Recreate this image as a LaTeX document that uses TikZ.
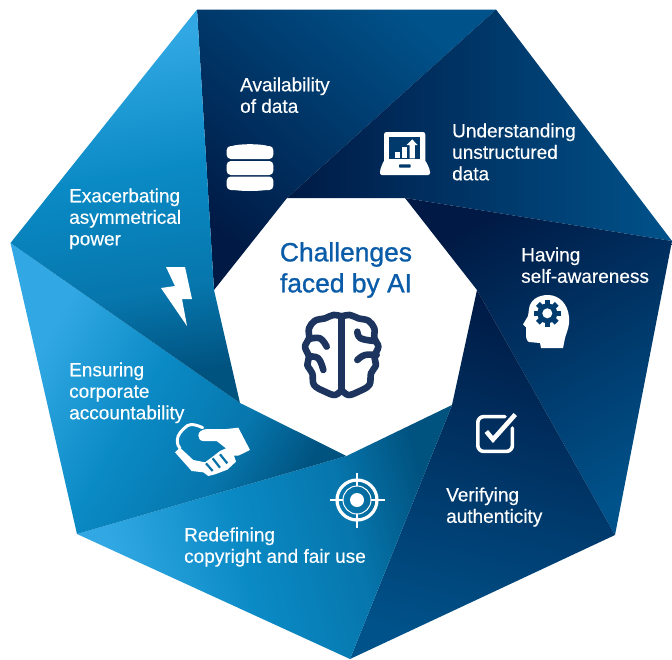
\documentclass[tikz,border=0pt]{standalone}
\usepackage{fontspec}
\setmainfont{Liberation Sans}
\newfontfamily\medfont[FakeBold=0.35]{Liberation Sans}
\newfontfamily\titlefont[FakeBold=1]{Liberation Sans}
\definecolor{dk}{HTML}{001A45}
\definecolor{nv}{HTML}{00528A}
\definecolor{lt}{HTML}{31A8E3}
\definecolor{md}{HTML}{0A8AC5}
\definecolor{tl}{HTML}{00527F}
\definecolor{brainc}{HTML}{1C345E}
\definecolor{titlec}{HTML}{0A5CA8}
\pgfdeclareverticalshading{bluefan}{100bp}{color(0bp)=(tl); color(26bp)=(tl); color(38bp)=(md!65!tl); color(54bp)=(md); color(72bp)=(lt); color(100bp)=(lt)}
\tikzset{
  bladenavy/.style={left color=dk,right color=nv,draw=none},
  bladeblue/.style={shading=bluefan,draw=none},
  label/.style={text=white,align=left,anchor=north west,inner sep=0pt,font=\medfont\fontsize{19}{21.5}\selectfont},
  title/.style={text=titlec,align=center,anchor=center,inner sep=0pt,font=\titlefont\fontsize{26.4}{31}\selectfont},
  ico/.style={fill=white,draw=none},
  brainline/.style={draw=brainc,line width=6.6pt,line cap=round,line join=round},
}
\newcommand{\ls}[1]{\strut #1}
\begin{document}
\begin{tikzpicture}[x=1pt,y=-1pt]
\useasboundingbox (0,0) rectangle (672,659);
\fill[white] (0,0) rectangle (672,659);
% outer
\coordinate (oA) at (197,9.5);
\coordinate (oB) at (496,9.5);
\coordinate (oC) at (672,241);
\coordinate (oD) at (615,535);
\coordinate (oE) at (350,659);
\coordinate (oF) at (77,534);
\coordinate (oG) at (10.5,243);
% inner
\coordinate (i1) at (287,198);
\coordinate (i2) at (405,198);
\coordinate (i3) at (477,290);
\coordinate (i4) at (452,405);
\coordinate (i5) at (346.5,456);
\coordinate (i6) at (240,403);
\coordinate (i7) at (214,290);
% blades
\shade[bladenavy,shading angle=140] (oA) -- (oB) -- (i1) -- (i7) -- cycle;
\shade[bladenavy,shading angle=90] (oB) -- (oC) -- (i2) -- (i1) -- cycle;
\shade[bladenavy,shading angle=30] (oC) -- (oD) -- (i3) -- (i2) -- cycle;
\shade[bladenavy,shading angle=-15] (oD) -- (oE) -- (i4) -- (i3) -- cycle;
\shade[bladeblue,shading angle=105] (oE) -- (oF) -- (i5) -- (i4) -- cycle;
\shade[bladeblue,shading angle=60] (oF) -- (oG) -- (i6) -- (i5) -- cycle;
\shade[bladeblue,shading angle=10] (oG) -- (oA) -- (i7) -- (i6) -- cycle;
% labels
\node[label] (avail) at (240,76) {\ls{Availability}\\\ls{of data}};
\node[label] (unstr) at (452,122) {\ls{Understanding}\\\ls{unstructured}\\\ls{data}};
\node[label] (selfa) at (521,246) {\ls{Having}\\\ls{self-awareness}};
\node[label] (verif) at (446,486) {\ls{Verifying}\\\ls{authenticity}};
\node[label] (copyr) at (184,526) {\ls{Redefining}\\\ls{copyright and fair use}};
\node[label] (corpo) at (69,361) {\ls{Ensuring}\\\ls{corporate}\\\ls{accountability}};
\node[label] (asymm) at (69,187) {\ls{Exacerbating}\\\ls{asymmetrical}\\\ls{power}};
\node[title] (chall) at (346,270) {Challenges\\faced by AI};
% database
\fill[ico,rounded corners=4pt] (226.7,146) rectangle (273.3,159);
\fill[ico] (250,147.5) ellipse [x radius=20,y radius=3.3];
\fill[ico,rounded corners=4pt] (226.7,161) rectangle (273.3,175);
\fill[ico,rounded corners=4pt] (226.7,176.5) rectangle (273.3,190);
\fill[ico] (250,188) ellipse [x radius=20,y radius=3];
% laptop
\fill[ico,rounded corners=2.5pt] (384,132) rectangle (425.3,165);
\fill[ico,rounded corners=2pt] (384,160) -- (425.3,160) -- (430,170) -- (430,175) -- (380,175) -- (380,170) -- cycle;
\fill[dk!45!nv] (389.3,136.7) rectangle (420.3,159.3);
\fill[dk!45!nv,rounded corners=0.8pt] (399,164.3) rectangle (410.7,167.7);
\fill[ico] (395,151.7) rectangle (400,158.3);
\fill[ico] (401.7,146.7) rectangle (407.3,158.3);
\fill[ico] (409.6,158.3) -- (409.6,145) -- (406.7,145) -- (412.2,139.3) -- (417.5,145) -- (414.9,145) -- (414.9,158.3) -- cycle;
% head + gear
\fill[ico] (529,342) -- (540,343) -- (541,348) -- (563,348) -- (565,338)
  .. controls (567,331) and (570,326) .. (569,317)
  .. controls (568,304) and (559,295) .. (548,295)
  .. controls (538,295) and (530,300) .. (529,309)
  .. controls (528.5,312) and (528.5,314) .. (528,316)
  -- (523,324.5) -- (526,327.5) -- (526,333)
  .. controls (526,337) and (526,340) .. (529,342) -- cycle;
\foreach \a in {0,45,...,315}{
  \fill[nv!60!dk,rotate around={\a:(547.3,313.3)}] (544.6,300) rectangle (550,305);
}
\fill[nv!60!dk] (547.3,313.3) circle [radius=10];
\fill[ico] (547.3,313.3) circle [radius=5];
% check box
\draw[white,line width=3.6pt,line cap=round,line join=round,rounded corners=6pt] (505,416.6) -- (477.8,416.6) -- (477.8,451.4) -- (512.4,451.4) -- (512.4,428);
\draw[white,line width=4.6pt,line join=miter] (486.3,431.5) -- (493,439.5) -- (515.3,414.5);
% lightning
\fill[ico] (166,267) -- (185,267) -- (192,299) -- (182,299) -- (187,326) -- (161,288) -- (175,286) -- cycle;
% target
\draw[white,line width=3.2pt] (357,500) circle [radius=20];
\draw[white,line width=1pt] (357,500) circle [radius=14];
\fill[ico] (357,500) circle [radius=7];
\draw[white,line width=2.8pt] (330,500) -- (343,500) (371,500) -- (385,500) (357,473) -- (357,486) (357,514) -- (357,527.5);
% handshake
\begin{scope}[shift={(170,415)},x=0.3333pt,y=-0.3333pt]
\draw[white,line width=3pt,line cap=round,line join=round] (98,38) .. controls (80,30) and (65,25) .. (52,32) .. controls (35,45) and (22,60) .. (22,75) .. controls (22,88) and (25,95) .. (30,100);
\fill[ico] (85,62) .. controls (85,50) and (95,44) .. (110,42) -- (170,42) -- (205,38) -- (240,105) -- (205,122) -- (192,122) -- (198,140) -- (172,164) -- (135,178) -- (115,183) -- (100,172) -- (65,168) -- (15,112) -- (30,98) -- (70,135) -- (105,142) -- (128,125) -- (150,108) -- (168,100) -- (140,78) -- (100,78) .. controls (90,78) and (85,70) .. (85,62) -- cycle;
\draw[md!55!tl,line width=2.2pt] (108,145) -- (128,168) (128,130) -- (150,158) (150,118) -- (172,145);
\end{scope}
% brain
\begin{scope}[shift={(295,305)},x=0.3333pt,y=-0.3333pt]
\draw[brainline] (140,34) -- (140,255);
\draw[brainline] plot[smooth,tension=0.6] coordinates {(140,34) (115,30) (90,40) (60,47) (42,70) (42,100) (30,125) (42,155) (37,180) (52,205) (57,240) (90,260) (120,270) (140,255)};
\draw[brainline] plot[smooth,tension=0.6] coordinates {(140,34) (165,30) (190,40) (220,47) (238,70) (238,100) (250,125) (238,155) (243,180) (228,205) (223,240) (190,260) (160,270) (140,255)};
\draw[brainline] plot[smooth,tension=0.7] coordinates {(42,102) (75,100) (95,125)};
\draw[brainline] plot[smooth,tension=0.7] coordinates {(42,155) (70,160) (85,195)};
\draw[brainline] plot[smooth,tension=0.7] coordinates {(187,80) (197,100) (238,108)};
\draw[brainline] plot[smooth,tension=0.7] coordinates {(187,165) (210,150) (245,150)};
\end{scope}
\end{tikzpicture}
\end{document}
